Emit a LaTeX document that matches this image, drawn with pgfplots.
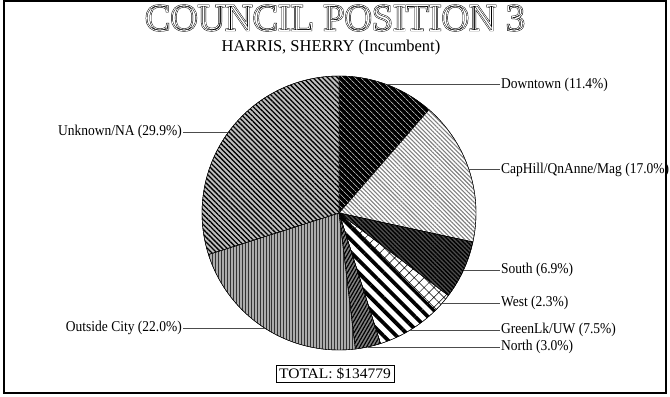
\documentclass[border=0pt]{standalone}
\usepackage{fontspec}
\usepackage{pgfplots}
\pgfplotsset{compat=1.18}
\usetikzlibrary{patterns.meta}
\newfontfamily\labfont[FakeStretch=0.9]{Liberation Serif}
\newfontfamily\subfont{Liberation Serif}
\newfontfamily\totfont[FakeStretch=1.07]{Liberation Serif}
\newfontfamily\titlefont{Liberation Serif}
\newcommand{\lab}{\labfont\fontsize{15bp}{16bp}\selectfont}
\newcommand{\ttl}{\titlefont\fontsize{38bp}{38bp}\selectfont}
\begin{document}
\begin{tikzpicture}
\begin{axis}[hide axis, scale only axis, width=670bp, height=396bp,
  xmin=-339, xmax=331, ymin=-183, ymax=213, clip=false]
\fill[white] (axis cs:-339,-183) rectangle (axis cs:331,213);
% Downtown 11.4
\addplot[draw=black, line width=0.4, preaction={fill=black},
  pattern={Lines[angle=-45,distance=4,line width=0.6]}, pattern color=white,
  data cs=polar, domain={90-3.6*(11.4)}:{90}, samples=60] ({x},{137}) -- (axis cs:0,0) -- cycle;
% CapHill 17.0
\addplot[draw=black, line width=0.4, preaction={fill=white},
  pattern={Lines[angle=-45,distance=3,line width=1.1]}, pattern color=gray,
  data cs=polar, domain={90-3.6*(11.4+17.0)}:{90-3.6*(11.4)}, samples=60] ({x},{137}) -- (axis cs:0,0) -- cycle;
% South 6.9
\addplot[draw=black, line width=0.4, preaction={fill=gray!60!black},
  pattern={Lines[angle=-45,distance=3,line width=1.4]}, pattern color=black,
  data cs=polar, domain={90-3.6*(28.4+6.9)}:{90-3.6*(28.4)}, samples=40] ({x},{137}) -- (axis cs:0,0) -- cycle;
% West 2.3
\addplot[draw=black, line width=0.4, preaction={fill=white},
  pattern={Hatch[angle=45,distance=7,line width=0.5]}, pattern color=black,
  data cs=polar, domain={90-3.6*(35.3+2.3)}:{90-3.6*(35.3)}, samples=20] ({x},{137}) -- (axis cs:0,0) -- cycle;
% GreenLk/UW 7.5
\addplot[draw=black, line width=0.4, preaction={fill=white},
  pattern={Lines[angle=-45,distance=9,line width=3.8]}, pattern color=black,
  data cs=polar, domain={90-3.6*(37.6+7.5)}:{90-3.6*(37.6)}, samples=40] ({x},{137}) -- (axis cs:0,0) -- cycle;
% North 3.0
\addplot[draw=black, line width=0.4, preaction={fill=gray},
  pattern={Lines[angle=60,distance=3,line width=1.2]}, pattern color=black,
  data cs=polar, domain={90-3.6*(45.1+3.0)}:{90-3.6*(45.1)}, samples=20] ({x},{137}) -- (axis cs:0,0) -- cycle;
% Outside City 22.0
\addplot[draw=black, line width=0.4, preaction={fill=gray!65},
  pattern={Lines[angle=90,distance=3,line width=1.0]}, pattern color=black!80,
  data cs=polar, domain={90-3.6*(48.1+22.0)}:{90-3.6*(48.1)}, samples=80] ({x},{137}) -- (axis cs:0,0) -- cycle;
% Unknown/NA 29.9
\addplot[draw=black, line width=0.4, preaction={fill=gray!50},
  pattern={Lines[angle=-45,distance=3.5,line width=1.3]}, pattern color=black,
  data cs=polar, domain={90-3.6*(70.1+29.9)}:{90-3.6*(70.1)}, samples=100] ({x},{137}) -- (axis cs:0,0) -- cycle;
% leader lines
\addplot[black!70, line width=0.7] coordinates {(48.0,128.3) (161,128.3)};
\addplot[black!70, line width=0.7] coordinates {(130.0,43.2) (161,43.2)};
\addplot[black!70, line width=0.7] coordinates {(124.5,-57.2) (161,-57.2)};
\addplot[black!70, line width=0.7] coordinates {(103.0,-90.3) (161,-90.3)};
\addplot[black!70, line width=0.7] coordinates {(70.8,-117.3) (161,-117.3)};
\addplot[black!70, line width=0.7] coordinates {(29.0,-133.9) (161,-133.9)};
\addplot[black!70, line width=0.7] coordinates {(-74.1,-115.2) (-156,-115.2)};
\addplot[black!70, line width=0.7] coordinates {(-110.6,80.9) (-156,80.9)};
% labels
\node[anchor=west, inner sep=0pt] at (axis cs:162,128.3) {\lab Downtown (11.4\%)};
\node[anchor=west, inner sep=0pt] at (axis cs:162,43.2) {\lab CapHill/QnAnne/Mag (17.0\%)};
\node[anchor=west, inner sep=0pt] at (axis cs:162,-57.2) {\lab South (6.9\%)};
\node[anchor=west, inner sep=0pt] at (axis cs:162,-90.3) {\lab West (2.3\%)};
\node[anchor=west, inner sep=0pt] at (axis cs:162,-117.3) {\lab GreenLk/UW (7.5\%)};
\node[anchor=west, inner sep=0pt] at (axis cs:162,-133.9) {\lab North (3.0\%)};
\node[anchor=east, inner sep=0pt] at (axis cs:-157,-115.2) {\lab Outside City (22.0\%)};
\node[anchor=east, inner sep=0pt] at (axis cs:-157,80.9) {\lab Unknown/NA (29.9\%)};
% frame
\draw[line width=1.2] (axis cs:-335,212) rectangle (axis cs:327,-180);
% title (double outline)
\node[inner sep=0pt] at (axis cs:-4,195) {\rlap{\ttl\special{pdf:literal direct 1 Tr 1.7 w}COUNCIL POSITION 3\special{pdf:literal direct 0 Tr 1 w}}{\color{white}\ttl\special{pdf:literal direct 1 Tr 0.75 w}COUNCIL POSITION 3\special{pdf:literal direct 0 Tr 1 w}}};
\node[inner sep=0pt] at (axis cs:-8,165) {\subfont\fontsize{16.5bp}{17bp}\selectfont HARRIS, SHERRY (Incumbent)};
\node[draw=black, line width=0.8, inner xsep=3bp, inner ysep=3bp] at (axis cs:-4,-161) {\totfont\fontsize{14.5bp}{15bp}\selectfont TOTAL: \$134779};
\end{axis}
\pgfresetboundingbox
\path (current axis.south west) rectangle (current axis.north east);
\end{tikzpicture}
\end{document}
